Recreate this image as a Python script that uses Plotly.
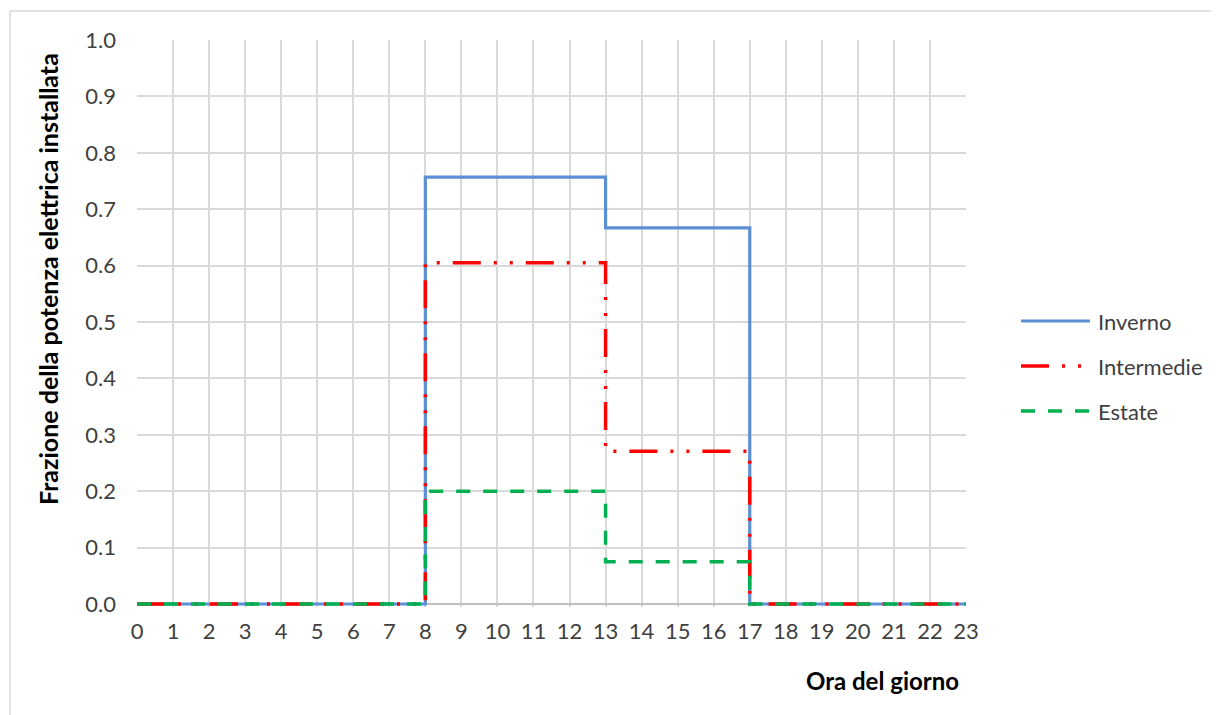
import plotly.graph_objects as go

hours = list(range(24))
inverno = [0]*8 + [0.757]*5 + [0.667]*4 + [0]*7
intermedie = [0]*8 + [0.605]*5 + [0.271]*4 + [0]*7
estate = [0]*8 + [0.2]*5 + [0.075]*4 + [0]*7
series_names = ["Inverno", "Intermedie", "Estate"]
colors = ["#5B8FD6", "#FF0000", "#00B050"]
dashes = ["solid", "28px,13px,3px,13px,3px,13px", "14px,13px"]
widths = [3.2, 3.5, 3.5]
x_ticks = list(range(24))
y_ticks = [round(i/10, 1) for i in range(11)]

FONT = "Lato, Carlito, Calibri, sans-serif"

# page offset (browser body margin)
OFF = 8
# plot area geometry in screen px (y=0 at 604, y=1 at 40; extend 3px below so the zero line is not clipped)
EXT = 3
L, R, T, B = 137, 966, 40, 604 + EXT
W, H = 1219 - OFF, 715 - OFF
pw, ph = R - L, B - T
ymin = -EXT / (604 - 40)

def px_x(px):
    return (px - L) / pw

def px_y(py):
    return (B - py) / ph

fig = go.Figure()
for name, vals, c, d, w in zip(series_names, [inverno, intermedie, estate], colors, dashes, widths):
    fig.add_trace(go.Scatter(x=hours, y=vals, mode="lines", name=name,
                             line=dict(color=c, width=w, dash=d, shape="hv"),
                             showlegend=False))

shapes = []
annotations = []
# outer chart border (top & left visible)
shapes.append(dict(type="line", xref="paper", yref="paper", x0=px_x(10), x1=px_x(1230),
                   y0=px_y(11), y1=px_y(11), line=dict(color="#D9D9D9", width=1.5)))
shapes.append(dict(type="line", xref="paper", yref="paper", x0=px_x(10), x1=px_x(10),
                   y0=px_y(11), y1=px_y(730), line=dict(color="#D9D9D9", width=1.5)))

# manual legend
leg_y = [321, 366, 411]
for name, c, d, w, ly in zip(series_names, colors, dashes, widths, leg_y):
    shapes.append(dict(type="line", xref="paper", yref="paper", x0=px_x(1021), x1=px_x(1090),
                       y0=px_y(ly), y1=px_y(ly), line=dict(color=c, width=w, dash=d)))
    annotations.append(dict(text=name, xref="paper", yref="paper", x=px_x(1096), y=px_y(ly),
                            xanchor="left", yanchor="middle", showarrow=False,
                            font=dict(family=FONT, size=22, color="#404040")))

# axis titles
annotations.append(dict(text="<b>Frazione della potenza elettrica installata</b>", textangle=-90,
                        xref="paper", yref="paper", x=px_x(48), y=px_y(279),
                        xanchor="center", yanchor="middle", showarrow=False,
                        font=dict(family=FONT, size=25, color="#000000")))
annotations.append(dict(text="<b>Ora del giorno</b>", xref="paper", yref="paper",
                        x=px_x(882), y=px_y(681), xanchor="center", yanchor="middle",
                        showarrow=False, font=dict(family=FONT, size=24, color="#000000")))

fig.update_layout(
    width=W, height=H,
    margin=dict(l=L - OFF, r=W - (R - OFF), t=T - OFF, b=H - (B - OFF)),
    paper_bgcolor="white", plot_bgcolor="white",
    shapes=shapes, annotations=annotations,
    xaxis=dict(range=[0, 23], tickmode="array", tickvals=x_ticks, ticktext=[str(t) for t in x_ticks],
               showgrid=True, gridcolor="#D9D9D9", gridwidth=1.5, zeroline=False,
               showline=False, layer="below traces",
               ticks="", ticklabelstandoff=12 - EXT,
               tickfont=dict(family=FONT, size=22, color="#404040")),
    yaxis=dict(range=[ymin, 1], tickmode="array", tickvals=y_ticks, tickformat=".1f",
               showgrid=True, gridcolor="#D9D9D9", gridwidth=1.5,
               zeroline=True, zerolinecolor="#BFBFBF", zerolinewidth=1.5,
               showline=False, ticks="", ticklabelstandoff=20, layer="below traces",
               tickfont=dict(family=FONT, size=22, color="#404040")),
)

fig.write_html("out.html")
